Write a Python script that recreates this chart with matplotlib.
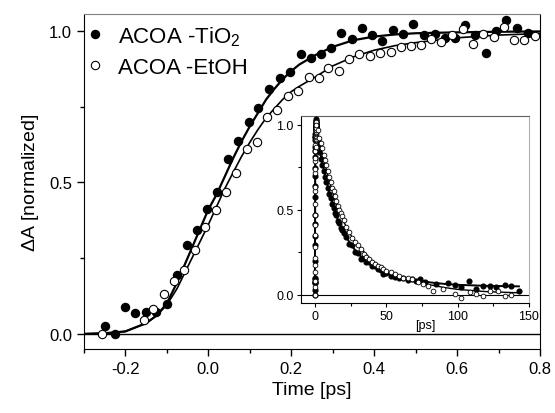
import numpy as np
import matplotlib
matplotlib.use('Agg')
import matplotlib.pyplot as plt

plt.rcParams['font.family'] = ['Liberation Sans', 'DejaVu Sans']
plt.rcParams['mathtext.fontset'] = 'custom'
plt.rcParams['mathtext.rm'] = 'Liberation Sans'
plt.rcParams['mathtext.default'] = 'regular'

# main panel: rise, data points
t_tio2 = [-0.25, -0.224, -0.2, -0.176, -0.15, -0.126, -0.1, -0.076, -0.05, -0.026, -0.002,
          0.022, 0.048, 0.072, 0.098, 0.12, 0.146, 0.172, 0.198, 0.224, 0.248, 0.272, 0.296,
          0.32, 0.346, 0.37, 0.396, 0.42, 0.446, 0.47, 0.494, 0.52, 0.546, 0.57, 0.596, 0.62,
          0.644, 0.67, 0.694, 0.718, 0.744, 0.77]
a_tio2 = [0.026, 0.0, 0.09, 0.068, 0.072, 0.072, 0.10, 0.195, 0.294, 0.344, 0.414,
          0.47, 0.577, 0.637, 0.70, 0.747, 0.81, 0.846, 0.866, 0.926, 0.91, 0.926, 0.943,
          0.995, 0.975, 1.009, 0.987, 0.969, 1.003, 0.992, 1.024, 0.986, 0.992, 0.978, 0.978, 1.02,
          0.986, 0.929, 1.0, 1.036, 1.011, 0.995]

t_etoh = [-0.256, -0.156, -0.132, -0.106, -0.082, -0.058, -0.032, -0.008, 0.018, 0.044,
          0.068, 0.094, 0.118, 0.142, 0.166, 0.192, 0.216, 0.242, 0.266, 0.29, 0.316, 0.34,
          0.364, 0.39, 0.414, 0.44, 0.466, 0.49, 0.514, 0.538, 0.562, 0.588, 0.614, 0.638,
          0.662, 0.688, 0.714, 0.738, 0.762, 0.788]
a_etoh = [0.0, 0.047, 0.082, 0.132, 0.176, 0.212, 0.278, 0.352, 0.408, 0.467,
          0.531, 0.61, 0.634, 0.718, 0.74, 0.786, 0.802, 0.85, 0.844, 0.879, 0.868, 0.907,
          0.926, 0.918, 0.929, 0.932, 0.947, 0.951, 0.954, 0.975, 0.964, 0.986, 1.008, 0.959,
          0.991, 0.982, 1.014, 0.97, 0.97, 0.983]

# fitted curves
t_fit = [-0.3, -0.25, -0.2, -0.15, -0.125, -0.1, -0.075, -0.05, -0.025, 0.0, 0.02, 0.04,
         0.06, 0.08, 0.1, 0.12, 0.14, 0.16, 0.18, 0.2, 0.22, 0.26, 0.3, 0.35, 0.4, 0.45,
         0.5, 0.6, 0.7, 0.8]
fit_tio2 = [0.0, 0.002, 0.008, 0.035, 0.06, 0.10, 0.17, 0.25, 0.33, 0.41, 0.46, 0.52,
            0.58, 0.635, 0.685, 0.73, 0.775, 0.81, 0.842, 0.868, 0.89, 0.922, 0.948, 0.97, 0.982, 0.989,
            0.993, 0.996, 0.998, 0.999]
fit_etoh = [0.0, 0.002, 0.008, 0.035, 0.06, 0.095, 0.15, 0.22, 0.29, 0.36, 0.42, 0.48,
            0.533, 0.585, 0.632, 0.675, 0.714, 0.745, 0.775, 0.80, 0.818, 0.85, 0.885, 0.915, 0.937, 0.952,
            0.962, 0.978, 0.987, 0.992]

# inset: decay over 150 ps
td_tio2 = [1, 2, 3, 4, 5, 6, 7, 8, 9, 10, 11, 12, 13, 14, 15, 16, 17, 18, 19, 20, 22, 24, 26,
           28, 30, 32, 34, 36, 38, 40, 42, 44, 46, 48, 50, 53, 56, 59, 62, 65, 68, 71, 73.4, 77,
           85, 93.2, 98, 102.6, 107.7, 113, 117.7, 122.4, 127, 132.9, 137.6, 143]
ad_tio2 = [0.97, 0.91, 0.84, 0.80, 0.76, 0.73, 0.69, 0.66, 0.63, 0.59, 0.57, 0.53, 0.51, 0.48,
           0.47, 0.43, 0.42, 0.39, 0.38, 0.36, 0.34, 0.30, 0.29, 0.25, 0.245, 0.21, 0.215, 0.19,
           0.19, 0.17, 0.165, 0.15, 0.145, 0.12, 0.125, 0.11, 0.105, 0.095, 0.10, 0.085, 0.09, 0.08,
           0.092, 0.073, 0.063, 0.067, 0.057, 0.043, 0.078, 0.03, 0.053, 0.053, 0.043, 0.057,
           0.049, 0.02]
td_etoh = [1, 2, 3, 4, 5, 6, 7, 8, 9, 10, 11, 12, 13, 14, 15, 16, 17, 18, 19, 20, 22, 24, 26,
           28, 30, 32, 34, 36, 38, 40, 42, 44, 46, 48, 50, 53, 56, 59, 62, 65, 68, 72, 76, 79,
           82.7, 89.7, 98, 102.6, 108.4, 113, 117.7, 122.4, 128, 132.9, 137.6]
ad_etoh = [1.0, 0.97, 0.92, 0.89, 0.86, 0.82, 0.79, 0.76, 0.73, 0.69, 0.66, 0.63, 0.61, 0.58,
           0.55, 0.52, 0.50, 0.48, 0.46, 0.44, 0.40, 0.37, 0.33, 0.31, 0.29, 0.27, 0.24, 0.22,
           0.21, 0.19, 0.18, 0.17, 0.16, 0.15, 0.14, 0.13, 0.12, 0.11, 0.10, 0.095, 0.09, 0.075,
           0.06, 0.05, 0.023, 0.033, 0.004, -0.02, 0.014, 0.004, -0.006, 0.023, 0.023, -0.006, 0.0]
td_fit = [1, 3, 6, 10, 15, 20, 25, 30, 40, 50, 60, 70, 80, 90, 100, 120, 143]
fitd_tio2 = [0.96, 0.86, 0.74, 0.60, 0.46, 0.365, 0.295, 0.24, 0.17, 0.125, 0.10, 0.085,
             0.072, 0.063, 0.057, 0.051, 0.048]
fitd_etoh = [0.99, 0.90, 0.80, 0.67, 0.53, 0.43, 0.35, 0.29, 0.20, 0.14, 0.105, 0.08,
             0.058, 0.042, 0.03, 0.017, 0.01]

fig = plt.figure(figsize=(5.55, 4.14), dpi=100)
ax = fig.add_axes([0.151, 0.1546, 0.822, 0.808])

ax.axhline(0, color='black', lw=1.0, zorder=1)
ax.plot(t_fit, fit_tio2, color='black', lw=1.6, zorder=2)
ax.plot(t_fit, fit_etoh, color='black', lw=1.2, zorder=2)
ax.plot(t_tio2, a_tio2, 'o', color='black', ms=5.8, label='ACOA -TiO$_2$', zorder=3)
ax.plot(t_etoh, a_etoh, 'o', mfc='white', mec='black', mew=0.8, ms=6, label='ACOA -EtOH', zorder=3)

ax.set_xlim(-0.3, 0.8)
ax.set_ylim(-0.05, 1.055)
ax.set_xticks(np.arange(-0.2, 0.81, 0.2))
ax.set_xticks(np.arange(-0.3, 0.81, 0.1), minor=True)
ax.set_yticks([0.0, 0.5, 1.0])
ax.set_yticks([0.25, 0.75], minor=True)
ax.set_xticklabels(['-0.2', '0.0', '0.2', '0.4', '0.6', '0.8'])
ax.tick_params(which='major', direction='out', length=5, width=1, labelsize=12)
ax.tick_params(which='minor', direction='out', length=3, width=1)
ax.spines['top'].set_color('#808080')
ax.set_xlabel('Time [ps]', fontsize=14, labelpad=4)
ax.set_ylabel(r'$\Delta$A [normalized]', fontsize=14, labelpad=6)

ax.legend(loc='upper left', bbox_to_anchor=(-0.028, 1.018), frameon=False, fontsize=16,
          handlelength=0.8, handletextpad=0.6, labelspacing=0.4, borderaxespad=0.3)

# inset
axi = fig.add_axes([0.542, 0.2657, 0.411, 0.4513])
axi.axhline(0, color='black', lw=0.8, zorder=1)
axi.plot(t_fit + td_fit, fit_tio2 + fitd_tio2, color='black', lw=1.4, zorder=2)
axi.plot(t_fit + td_fit, fit_etoh + fitd_etoh, color='black', lw=1.0, zorder=2)
axi.plot(t_tio2 + td_tio2, a_tio2 + ad_tio2, 'o', color='black', ms=3.4, zorder=3)
axi.plot(t_etoh + td_etoh, a_etoh + ad_etoh, 'o', mfc='white', mec='black', mew=0.6, ms=3.4, zorder=3)
axi.set_xlim(-10, 150)
axi.set_ylim(-0.05, 1.05)
axi.set_xticks([0, 50, 100, 150])
axi.set_xticks([25, 75, 125], minor=True)
axi.set_yticks([0.0, 0.5, 1.0])
axi.set_yticks([0.25, 0.75], minor=True)
axi.tick_params(which='major', direction='out', length=3, width=0.8, labelsize=9, pad=2)
axi.tick_params(which='minor', direction='out', length=2, width=0.8)
axi.spines['top'].set_color('#606060')
axi.spines['right'].set_color('#b0b0b0')
axi.text(0.544, -0.118, '[ps]', transform=axi.transAxes, ha='center', va='center', fontsize=9)

fig.savefig('out.png', dpi=100)
